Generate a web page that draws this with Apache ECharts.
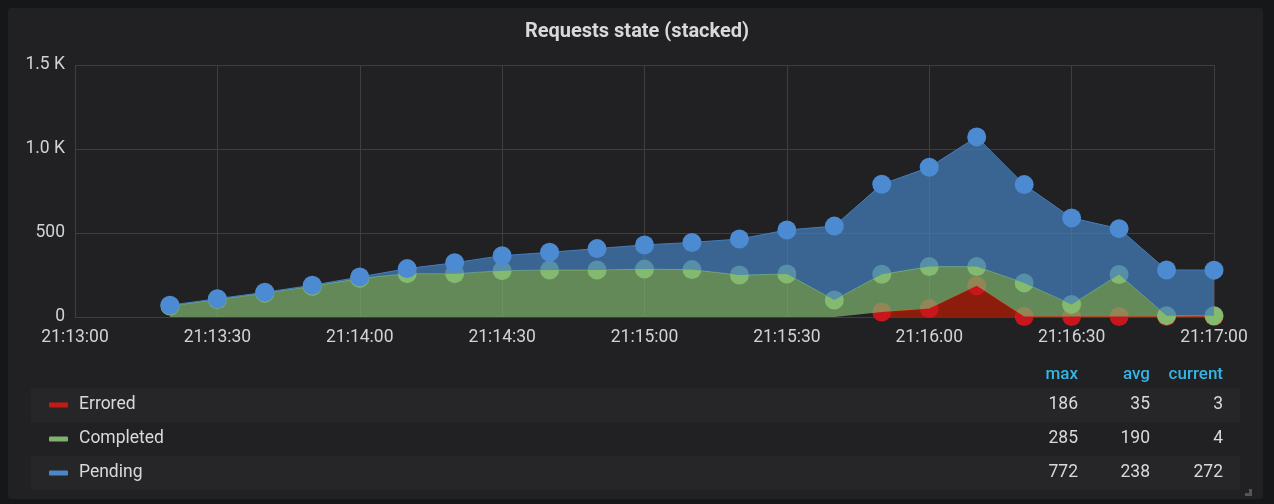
<!DOCTYPE html>
<html>
<head>
<meta charset="utf-8">
<script src="https://cdn.jsdelivr.net/npm/echarts@6/dist/echarts.min.js"></script>
<style>
  html, body { margin: 0; padding: 0; background: #161719; }
  #chart { width: 1274px; height: 504px; }
</style>
</head>
<body>
<div id="chart"></div>
<script>
// ---- Data ----
const times = ['21:13:20','21:13:30','21:13:40','21:13:50','21:14:00','21:14:10','21:14:20','21:14:30',
  '21:14:40','21:14:50','21:15:00','21:15:10','21:15:20','21:15:30','21:15:40','21:15:50','21:16:00',
  '21:16:10','21:16:20','21:16:30','21:16:40','21:16:50','21:17:00'];
const errored = [null,null,null,null,null,null,null,null,null,null,null,null,null,null,null,
  30,50,186,3,3,3,3,3];
const completed = [66,104,142,183,230,258,258,276,280,280,285,282,250,256,101,224,250,114,200,72,250,5,4];
const pending = [4,5,5,6,8,30,65,89,105,127,144,162,214,262,440,536,591,772,585,515,273,272,272];

const seriesNames = ['Errored', 'Completed', 'Pending'];
const statHeaders = ['max', 'avg', 'current'];
const statMax = ['186', '285', '772'];
const statAvg = ['35', '190', '238'];
const statCurrent = ['3', '4', '272'];
const yTickLabels = { 0: '0', 500: '500', 1000: '1.0 K', 1500: '1.5 K' };
const xStart = '21:13:00';
const xEnd = '21:17:00';
const xStep = 10; // seconds between samples

// ---- helpers ----
function toSec(t) { const p = t.split(':').map(Number); return p[0]*3600 + p[1]*60 + p[2]; }
function fmt(s) {
  const h = Math.floor(s/3600), m = Math.floor((s%3600)/60), ss = s%60;
  const z = n => (n < 10 ? '0' : '') + n;
  return z(h) + ':' + z(m) + ':' + z(ss);
}
const categories = [];
for (let s = toSec(xStart); s <= toSec(xEnd); s += xStep) categories.push(fmt(s));
function aligned(arr) {
  const out = categories.map(() => null);
  times.forEach((t, i) => { out[categories.indexOf(t)] = arr[i]; });
  return out;
}

const colors = ['#BF1B00', '#7EB26D', '#447EBC'];
const markerColors = ['#C8161C', '#84BA70', '#4C8AD2'];
const swatchColors = ['#C41A16', '#7EB26D', '#4A86C8'];
const dataSets = [errored, completed, pending];
const FONT = 'Roboto, "Noto Sans", sans-serif';

const series = seriesNames.map((name, k) => ({
  name: name,
  type: 'line',
  stack: 'total',
  z: 2 + k,
  data: aligned(dataSets[k]),
  symbol: 'circle',
  symbolSize: 19,
  showAllSymbol: true,
  connectNulls: false,
  lineStyle: { width: 1, color: colors[k] },
  itemStyle: { color: markerColors[k] },
  areaStyle: { color: colors[k], opacity: k === 0 ? 0.68 : 0.72 },
  emphasis: { disabled: true },
  animation: false
}));

// ---- legend table via graphic ----
const g = [];
g.push({ type: 'rect', z: -10, shape: { x: 8, y: 8, width: 1255, height: 491, r: 3 }, style: { fill: '#212124' } });
const rowY = [388, 422, 456];
const rowH = 34;
seriesNames.forEach((name, i) => {
  if (i !== 1) g.push({ type: 'rect', z: -5, shape: { x: 31, y: rowY[i], width: 1209, height: rowH }, style: { fill: '#262628' } });
  const cy = rowY[i] + rowH / 2;
  g.push({ type: 'rect', z: 5, shape: { x: 49, y: cy - 2.5, width: 19, height: 5, r: 1 }, style: { fill: swatchColors[i] } });
  g.push({ type: 'text', z: 5, x: 79, y: cy, style: { text: name, fill: '#d8d9da', font: '17.5px ' + FONT, textVerticalAlign: 'middle', textAlign: 'left' } });
  const vals = [statMax[i], statAvg[i], statCurrent[i]];
  const xs = [1078, 1150, 1223];
  vals.forEach((v, j) => {
    g.push({ type: 'text', z: 5, x: xs[j], y: cy, style: { text: v, fill: '#d8d9da', font: '17.5px ' + FONT, textVerticalAlign: 'middle', textAlign: 'right' } });
  });
});
[1078, 1150, 1223].forEach((x, j) => {
  g.push({ type: 'text', z: 5, x: x, y: 375, style: { text: statHeaders[j], fill: '#33B5E5', font: '500 17px ' + FONT, textVerticalAlign: 'middle', textAlign: 'right' } });
});
// resize handle
g.push({ type: 'polygon', z: 5, shape: { points: [[1252, 489], [1252, 496], [1245, 496], [1245, 493], [1249, 493], [1249, 489]] }, style: { fill: '#555558' } });

const chart = echarts.init(document.getElementById('chart'), null, { renderer: 'canvas' });
chart.setOption({
  backgroundColor: '#161719',
  animation: false,
  title: {
    text: 'Requests state (stacked)',
    left: 'center',
    top: 17,
    textStyle: { color: '#d8d9da', fontSize: 20, fontWeight: 'bold', fontFamily: FONT }
  },
  grid: { left: 75, right: 60, top: 65, bottom: 187, containLabel: false },
  xAxis: {
    type: 'category',
    data: categories,
    boundaryGap: false,
    axisLine: { show: false },
    axisTick: { show: false },
    splitLine: { show: true, interval: 2, lineStyle: { color: '#3e3e41', width: 1 } },
    axisLabel: { color: '#d0d3d6', fontSize: 17.5, fontFamily: FONT, margin: 12, interval: 2 }
  },
  yAxis: {
    type: 'value',
    min: 0,
    max: 1500,
    interval: 500,
    axisLine: { show: false },
    axisTick: { show: false },
    splitLine: { show: true, lineStyle: { color: '#3e3e41', width: 1 } },
    axisLabel: { color: '#d0d3d6', fontSize: 17.5, fontFamily: FONT, margin: 10, formatter: v => yTickLabels[v] !== undefined ? yTickLabels[v] : String(v) }
  },
  tooltip: { show: false },
  graphic: g,
  series: series
});
</script>
</body>
</html>
